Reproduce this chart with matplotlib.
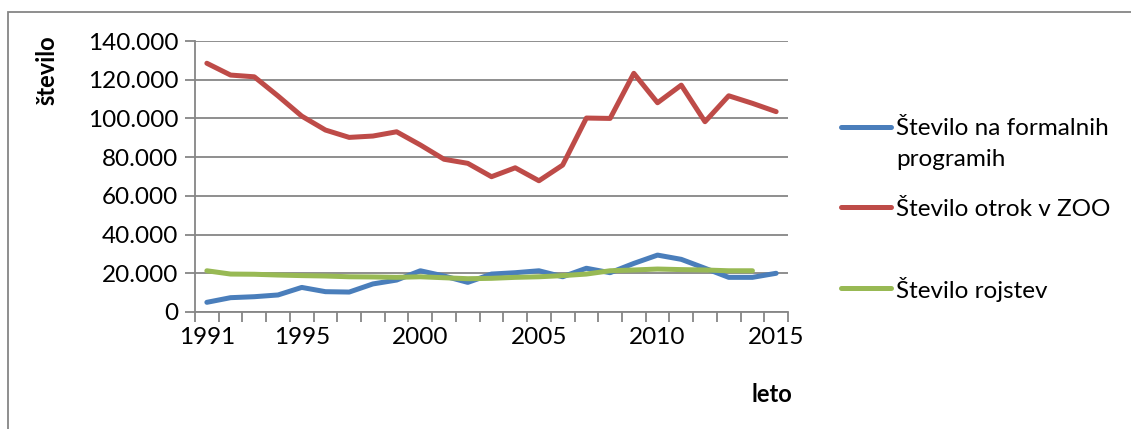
import numpy as np
import matplotlib.pyplot as plt
from matplotlib.lines import Line2D
from matplotlib.patches import Rectangle
from matplotlib.ticker import FuncFormatter

plt.rcParams['font.family'] = ['Lato', 'DejaVu Sans']

years = list(range(1991, 2016))
label_years = [1991, 1995, 2000, 2005, 2010, 2015]

formalni = [5.0, 7.4, 7.9, 8.8, 12.7, 10.5, 10.3, 14.5, 16.5, 21.3, 18.6, 15.3,
            19.6, 20.3, 21.3, 18.2, 22.6, 20.3, 25.1, 29.4, 27.2, 22.6, 17.9, 17.9, 20.0]
zoo = [128.5, 122.4, 121.5, 111.6, 101.2, 94.0, 90.2, 90.9, 93.1, 86.3, 78.9, 76.8,
       69.9, 74.5, 67.8, 75.9, 100.2, 100.0, 123.3, 108.1, 117.2, 98.3, 111.7, 107.8, 103.5]
rojstva = [21.3, 19.6, 19.5, 19.1, 18.8, 18.6, 18.2, 18.1, 17.9, 18.2, 17.7, 17.2,
           17.4, 17.9, 18.2, 18.8, 19.6, 21.3, 21.7, 22.2, 21.9, 21.7, 21.3, 21.3, np.nan]

series_names = ['Število na formalnih\nprogramih', 'Število otrok v ZOO', 'Število rojstev']
colors = ['#4A7EBB', '#BE4B48', '#98B954']

fig = plt.figure(figsize=(11.31, 4.29), dpi=100)
ax = fig.add_axes([195 / 1131, 1 - 312 / 429, 593 / 1131, 271 / 429])

x = np.arange(len(years))
for vals, c in zip([formalni, zoo, rojstva], colors):
    ax.plot(x, np.array(vals) * 1000, color=c, lw=3.6, solid_capstyle='round',
            solid_joinstyle='round', zorder=3)

grid_c = '#868686'
ax.set_xlim(-0.5, len(years) - 0.5)
ax.set_ylim(0, 140000)
ax.set_yticks(np.arange(0, 140001, 20000))
ax.yaxis.set_major_formatter(FuncFormatter(lambda v, p: '0' if v == 0 else f'{int(v):,}'.replace(',', '.')))
ax.grid(axis='y', color=grid_c, lw=1.3)
ax.set_axisbelow(True)

ax.set_xticks([years.index(y) for y in label_years])
ax.set_xticklabels([str(y) for y in label_years])
ax.set_xticks(np.arange(-0.5, len(years)), minor=True)
ax.tick_params(axis='x', which='major', length=0, pad=11, labelsize=17.5)
ax.tick_params(axis='x', which='minor', length=7, color=grid_c, width=1.3)
ax.tick_params(axis='y', length=7, color=grid_c, width=1.3, labelsize=17.5, pad=5)

for s in ['top', 'right']:
    ax.spines[s].set_visible(False)
for s in ['left', 'bottom']:
    ax.spines[s].set_color(grid_c)
    ax.spines[s].set_linewidth(1.3)

fig.text(47 / 1131, 1 - 70 / 429, 'število', rotation=90, fontsize=17, fontweight='bold',
         ha='center', va='center')
fig.text(772 / 1131, 1 - 394 / 429, 'leto', fontsize=17, fontweight='bold',
         ha='center', va='center')

# legend drawn by hand (uneven spacing like the original)
leg_y = [127, 207, 288]
for name, c, yy in zip(series_names, colors, leg_y):
    fy = 1 - yy / 429
    fig.add_artist(Line2D([841 / 1131, 891 / 1131], [fy, fy], color=c, lw=3.6,
                          solid_capstyle='round'))
    for k, line in enumerate(name.split('\n')):
        fig.text(896 / 1131, 1 - (yy + 2 + 31 * k) / 429, line, fontsize=17.5, va='center')

fig.add_artist(Rectangle((8 / 1131, -0.1), 1.2, 1 - 12 / 429 + 0.1, transform=fig.transFigure,
                         fill=False, edgecolor=grid_c, lw=1.3))

fig.savefig('out.png', dpi=100)
